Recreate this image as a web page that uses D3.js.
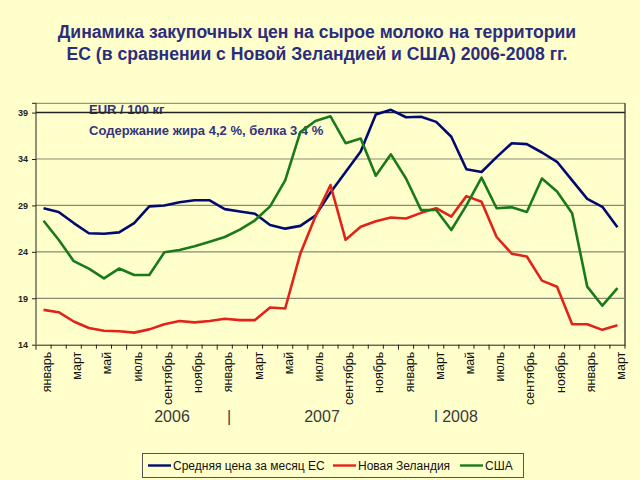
<!DOCTYPE html>
<html>
<head>
<meta charset="utf-8">
<script src="https://cdn.jsdelivr.net/npm/d3@7/dist/d3.min.js"></script>
<style>
  html, body { margin: 0; padding: 0; background: #ffffcc; }
  svg { display: block; }
  text { font-family: "Liberation Sans", Arial, sans-serif; }
</style>
</head>
<body>
<svg id="chart" width="640" height="480"></svg>
<script>
// ---- data ----
const monthNames = ["январь","февраль","март","апрель","май","июнь","июль","август","сентябрь","октябрь","ноябрь","декабрь"];
const months = d3.range(39).map(i => monthNames[i % 12] + " " + (2006 + Math.floor(i / 12)));
const euValues = [28.7, 28.3, 27.1, 26.0, 25.95, 26.1, 27.1, 28.9, 29.0, 29.35, 29.55, 29.55, 28.6, 28.35, 28.1, 26.9, 26.5, 26.8, 27.9, 30.4, 32.6, 34.8, 38.8, 39.3, 38.5, 38.55, 38.0, 36.4, 32.9, 32.6, 34.2, 35.7, 35.6, 34.7, 33.7, 31.7, 29.7, 28.85, 26.65];
const nzValues = [17.75, 17.5, 16.5, 15.8, 15.5, 15.45, 15.3, 15.65, 16.2, 16.55, 16.4, 16.55, 16.8, 16.65, 16.65, 18.0, 17.9, 23.8, 27.8, 31.2, 25.3, 26.7, 27.3, 27.7, 27.6, 28.2, 28.7, 27.8, 30.0, 29.4, 25.6, 23.8, 23.5, 20.9, 20.25, 16.2, 16.2, 15.6, 16.1];
const usaValues = [27.35, 25.3, 23.0, 22.2, 21.15, 22.2, 21.5, 21.5, 23.95, 24.2, 24.6, 25.1, 25.6, 26.4, 27.4, 28.9, 31.7, 36.9, 38.1, 38.6, 35.7, 36.2, 32.2, 34.5, 31.9, 28.5, 28.5, 26.35, 29.0, 32.0, 28.7, 28.8, 28.3, 31.9, 30.5, 28.15, 20.25, 18.2, 20.1];
const yTicks = [14, 19, 24, 29, 34, 39];
const yearLabels = ["2006", "|", "2007", "l 2008"];
const seriesNames = ["Средняя цена за месяц ЕС", "Новая Зеландия", "США"];
const titleLines = ["Динамика закупочных цен на сырое молоко на территории", "ЕС (в сравнении с Новой Зеландией и США) 2006-2008 гг."];
const noteLines = ["EUR / 100 кг", "Содержание жира 4,2 %, белка 3,4 %"];

const series = [
  { name: seriesNames[0], values: euValues, color: "#000a70" },
  { name: seriesNames[1], values: nzValues, color: "#e2231a" },
  { name: seriesNames[2], values: usaValues, color: "#1a7a1a" }
];

// ---- layout ----
const svg = d3.select("#chart");
const pL = 36, pR = 625, pT = 103.3, pB = 344.7;

const x = d3.scaleBand().domain(months).range([pL, pR]).paddingInner(0).paddingOuter(0);
const y = d3.scaleLinear().domain([14, 40]).range([pB, pT]);

svg.append("rect").attr("width", 640).attr("height", 480).attr("fill", "#ffffcc");

// title
svg.append("g").selectAll("text").data(titleLines).join("text")
  .attr("x", 317).attr("y", (d, i) => 38 + i * 22)
  .attr("text-anchor", "middle")
  .attr("font-size", 17.6).attr("font-weight", "bold")
  .attr("fill", "#2b2d7c")
  .text(d => d);

// notes (under the lines)
svg.append("g").selectAll("text").data(noteLines).join("text")
  .attr("x", 89).attr("y", (d, i) => i === 0 ? 114 : 134.5)
  .attr("font-size", 13).attr("font-weight", "bold")
  .attr("fill", "#33337f")
  .text(d => d);

// plot border (top and right)
svg.append("line").attr("x1", pL).attr("x2", pR).attr("y1", pT).attr("y2", pT)
  .attr("stroke", "#7a7a66").attr("stroke-width", 1);
svg.append("line").attr("x1", pR).attr("x2", pR).attr("y1", pT).attr("y2", pB)
  .attr("stroke", "#222").attr("stroke-width", 1.2);

// gridlines
svg.append("g").selectAll("line").data(yTicks.filter(t => t > 14)).join("line")
  .attr("x1", pL).attr("x2", pR)
  .attr("y1", d => y(d)).attr("y2", d => y(d))
  .attr("stroke", d => d === 39 ? "#222" : "#8a8a70")
  .attr("stroke-width", d => d === 39 ? 1.5 : 1.2);

// y axis
const yAxis = d3.axisLeft(y).tickValues(yTicks).tickSize(4).tickPadding(4).tickFormat(d3.format("d"));
const gy = svg.append("g").attr("transform", `translate(${pL},0)`).call(yAxis);
gy.select(".domain").attr("stroke", "#222").attr("d", `M-4,${pT}H0V${pB}`);
gy.selectAll(".tick line").attr("stroke", "#222");
gy.selectAll(".tick text").attr("font-size", 9).attr("fill", "#222")
  .attr("font-family", "Liberation Sans, Arial, sans-serif").attr("font-weight", "bold");

// x axis
const xAxis = d3.axisBottom(x).tickSize(0).tickFormat(d => d.split(" ")[0]);
const gx = svg.append("g").attr("transform", `translate(0,${pB})`).call(xAxis);
gx.select(".domain").attr("stroke", "#222");
gx.selectAll(".tick").filter((d, i) => i % 2 === 1).select("text").remove();
gx.selectAll(".tick text")
  .attr("font-size", 12.5).attr("fill", "#111")
  .attr("font-family", "Liberation Sans, Arial, sans-serif")
  .attr("transform", "rotate(-90)")
  .attr("text-anchor", "end")
  .attr("x", -7).attr("y", 0).attr("dy", "0.6em");
// tick marks at band boundaries
const boundaries = d3.range(months.length + 1).map(i => pL + i * x.bandwidth());
gx.append("g").selectAll("line").data(boundaries).join("line")
  .attr("x1", d => d).attr("x2", d => d)
  .attr("y1", 0).attr("y2", (d, i) => (i % 6 === 0) ? 5 : 4)
  .attr("stroke", "#222");

// lines
const line = d3.line()
  .x((d, i) => x(months[i]) + x.bandwidth() / 2)
  .y(d => y(d));
svg.append("g").selectAll("path").data(series).join("path")
  .attr("fill", "none")
  .attr("stroke", d => d.color)
  .attr("stroke-width", 2.6)
  .attr("stroke-linejoin", "round")
  .attr("d", d => line(d.values));

// year labels
const yearX = [172, 229, 322, 456];
svg.append("g").selectAll("text").data(yearLabels).join("text")
  .attr("x", (d, i) => yearX[i]).attr("y", 422)
  .attr("text-anchor", "middle")
  .attr("font-size", 16).attr("fill", "#3a3a3a")
  .text(d => d);

// legend
const lg = svg.append("g");
lg.append("rect").attr("x", 142.5).attr("y", 453.5).attr("width", 381).attr("height", 24)
  .attr("fill", "#ffffcc").attr("stroke", "#555").attr("stroke-width", 1);
const legendX = [148, 333, 460];
const item = lg.selectAll("g").data(series).join("g")
  .attr("transform", (d, i) => `translate(${legendX[i]},465.5)`);
item.append("line").attr("x1", 0).attr("x2", 23).attr("y1", 0).attr("y2", 0)
  .attr("stroke", d => d.color).attr("stroke-width", 2.4);
item.append("text").attr("x", 25).attr("y", 0).attr("dy", "0.35em")
  .attr("font-size", 12).attr("fill", "#111")
  .text(d => d.name);
</script>
</body>
</html>
